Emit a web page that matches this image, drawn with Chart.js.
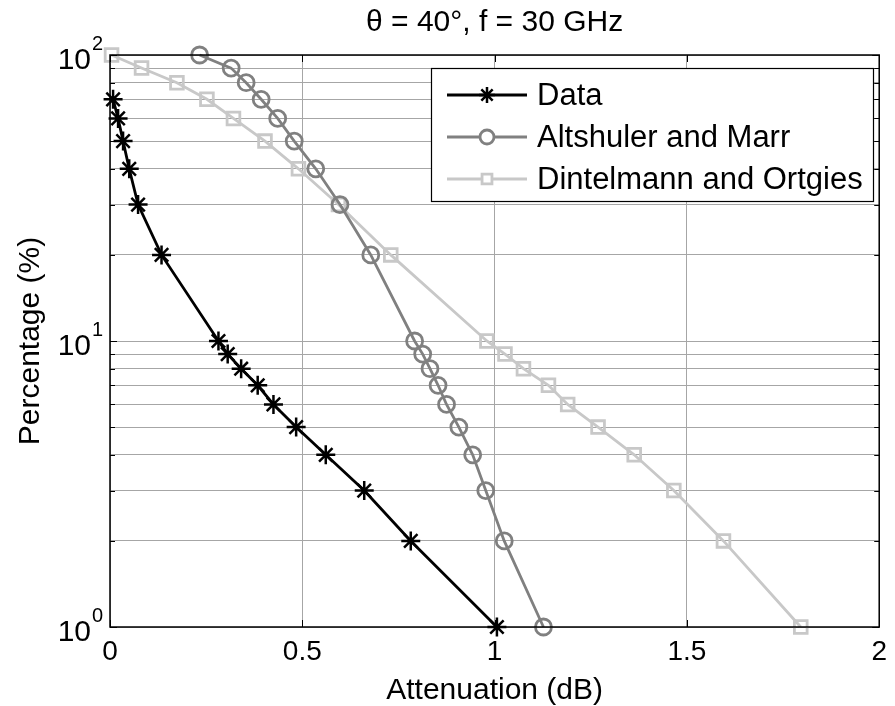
<!DOCTYPE html>
<html>
<head>
<meta charset="utf-8">
<script src="https://cdn.jsdelivr.net/npm/chart.js@4.4.1/dist/chart.umd.min.js"></script>
<style>
  html, body { margin: 0; padding: 0; background: #fff; }
  #wrap { width: 895px; height: 706px; }
</style>
</head>
<body>
<div id="wrap"><canvas id="chart" width="895" height="706"></canvas></div>
<script>
// ---------------- Data ----------------
const chartTitle = "θ = 40°, f = 30 GHz";
const xLabel = "Attenuation (dB)";
const yLabel = "Percentage (%)";

const seriesNames = ["Data", "Altshuler and Marr", "Dintelmann and Ortgies"];

const dataPct = [70, 60, 50, 40, 30, 20, 10, 9, 8, 7, 6, 5, 4, 3, 2, 1];
const dataAtt = [0.008, 0.021, 0.034, 0.05, 0.073, 0.134, 0.282, 0.306, 0.341, 0.384, 0.425, 0.484, 0.561, 0.661, 0.782, 1.006];

const altPct = [100, 90, 80, 70, 60, 50, 40, 30, 20, 10, 9, 8, 7, 6, 5, 4, 3, 2, 1];
const altAtt = [0.233, 0.315, 0.354, 0.393, 0.436, 0.479, 0.535, 0.598, 0.678, 0.792, 0.813, 0.832, 0.853, 0.875, 0.907, 0.943, 0.977, 1.025, 1.127];

const dinPct = [100, 90, 80, 70, 60, 50, 40, 30, 20, 10, 9, 8, 7, 6, 5, 4, 3, 2, 1];
const dinAtt = [0.004, 0.082, 0.174, 0.252, 0.321, 0.403, 0.49, 0.594, 0.73, 0.98, 1.027, 1.075, 1.14, 1.19, 1.269, 1.363, 1.466, 1.595, 1.796];

const xTicks = [0, 0.5, 1, 1.5, 2];
const yMajorTicks = [1, 10, 100];
const yGridValues = [1, 2, 3, 4, 5, 6, 7, 8, 9, 10, 20, 30, 40, 50, 60, 70, 80, 90, 100];

// ---------------- Helpers ----------------
const FONT = "Arial, 'Liberation Sans', Helvetica, sans-serif";
const gridColor = "#a6a6a6";

function toPoints(xs, ys) {
  return xs.map((x, i) => ({ x: x, y: ys[i] }));
}

// ---------------- Plugins ----------------
const framePlugin = {
  id: "frame",
  afterDatasetsDraw(chart) {
    const { ctx, chartArea: a, scales } = chart;
    ctx.save();
    ctx.strokeStyle = "#000";
    ctx.lineWidth = 1.5;
    ctx.strokeRect(a.left, a.top, a.right - a.left, a.bottom - a.top);
    // small inward tick marks like matlab
    ctx.lineWidth = 1;
    ctx.beginPath();
    yGridValues.forEach((v) => {
      const y = Math.round(scales.y.getPixelForValue(v)) + 0.5;
      const len = yMajorTicks.includes(v) ? 7 : 5;
      ctx.moveTo(a.left, y); ctx.lineTo(a.left + len, y);
      ctx.moveTo(a.right, y); ctx.lineTo(a.right - len, y);
    });
    xTicks.forEach((v) => {
      const x = Math.round(scales.x.getPixelForValue(v)) + 0.5;
      ctx.moveTo(x, a.bottom); ctx.lineTo(x, a.bottom - 7);
      ctx.moveTo(x, a.top); ctx.lineTo(x, a.top + 7);
    });
    ctx.stroke();
    ctx.restore();
  },
  afterDraw(chart) {
    const { ctx, chartArea: a, scales } = chart;
    ctx.save();
    ctx.fillStyle = "#000";
    // title
    ctx.font = "30px " + FONT;
    ctx.textAlign = "center";
    ctx.textBaseline = "middle";
    ctx.fillText(chartTitle, (a.left + a.right) / 2, 23);
    // y tick labels: 10 with superscript exponent
    yMajorTicks.forEach((v) => {
      const y = scales.y.getPixelForValue(v);
      const exp = String(Math.round(Math.log10(v)));
      ctx.font = "30px " + FONT;
      ctx.textAlign = "right";
      ctx.textBaseline = "middle";
      ctx.fillText("10", 91, y + 6);
      ctx.font = "20px " + FONT;
      ctx.textAlign = "left";
      ctx.fillText(exp, 92, y - 11);
    });
    ctx.restore();
  }
};

const legendPlugin = {
  id: "boxLegend",
  afterDatasetsDraw(chart) {
    const { ctx } = chart;
    const box = { x: 431.5, y: 68.5, w: 442, h: 133 };
    const rows = [95, 137, 179];
    ctx.save();
    ctx.fillStyle = "#fff";
    ctx.fillRect(box.x, box.y, box.w, box.h);
    ctx.strokeStyle = "#000";
    ctx.lineWidth = 1.2;
    ctx.strokeRect(box.x, box.y, box.w, box.h);
    chart.data.datasets.forEach((ds, i) => {
      const y = rows[i];
      ctx.strokeStyle = ds.borderColor;
      ctx.lineWidth = ds.borderWidth;
      ctx.beginPath();
      ctx.moveTo(447, y);
      ctx.lineTo(527, y);
      ctx.stroke();
      ctx.fillStyle = "#fff";
      ctx.strokeStyle = ds.pointBorderColor;
      ctx.lineWidth = ds.pointBorderWidth;
      Chart.helpers.drawPoint(ctx, {
        pointStyle: ds.pointStyle,
        radius: ds.pointStyle === "star" ? 8 : 7,
        borderWidth: ds.pointBorderWidth,
        rotation: 0
      }, 487, y);
      ctx.fillStyle = "#000";
      ctx.font = "31px " + FONT;
      ctx.textAlign = "left";
      ctx.textBaseline = "middle";
      ctx.fillText(ds.label, 537, y + 1);
    });
    ctx.restore();
  }
};

// ---------------- Chart ----------------
const ctx = document.getElementById("chart").getContext("2d");

const chart = new Chart(ctx, {
  type: "line",
  data: {
    datasets: [
      {
        label: seriesNames[0],
        data: toPoints(dataAtt, dataPct),
        borderColor: "#000000",
        borderWidth: 2.8,
        pointStyle: "star",
        pointRadius: 9.5,
        pointBorderWidth: 2.5,
        pointBorderColor: "#000000",
        pointBackgroundColor: "transparent",
        clip: false
      },
      {
        label: seriesNames[1],
        data: toPoints(altAtt, altPct),
        borderColor: "#808080",
        borderWidth: 2.8,
        pointStyle: "circle",
        pointRadius: 8,
        pointBorderWidth: 2.8,
        pointBorderColor: "#808080",
        pointBackgroundColor: "transparent",
        clip: false
      },
      {
        label: seriesNames[2],
        data: toPoints(dinAtt, dinPct),
        borderColor: "#c8c8c8",
        borderWidth: 2.8,
        pointStyle: "rect",
        pointRadius: 9,
        pointBorderWidth: 2.8,
        pointBorderColor: "#c8c8c8",
        pointBackgroundColor: "transparent",
        clip: false
      }
    ]
  },
  options: {
    responsive: false,
    animation: false,
    layout: { padding: { top: 55, right: 14, left: 0, bottom: 0 } },
    plugins: {
      legend: { display: false },
      title: { display: false },
      tooltip: { enabled: false }
    },
    elements: { line: { tension: 0 } },
    scales: {
      x: {
        type: "linear",
        min: 0,
        max: 2,
        afterBuildTicks(scale) {
          scale.ticks = xTicks.map((v) => ({ value: v }));
        },
        ticks: {
          color: "#000",
          font: { family: FONT, size: 28 },
          padding: 8,
          maxRotation: 0,
          callback: (v) => String(v)
        },
        grid: { color: gridColor, lineWidth: 1, drawTicks: false },
        border: { display: false },
        title: {
          display: true,
          text: xLabel,
          color: "#000",
          font: { family: FONT, size: 30, lineHeight: 1 },
          padding: { top: 0, bottom: 0 }
        },
        afterFit(scale) { scale.height = 79; }
      },
      y: {
        type: "logarithmic",
        min: 1,
        max: 100,
        afterBuildTicks(scale) {
          scale.ticks = yGridValues.map((v) => ({ value: v }));
        },
        ticks: { display: false },
        grid: { color: gridColor, lineWidth: 1, drawTicks: false },
        border: { display: false },
        title: {
          display: true,
          text: yLabel,
          color: "#000",
          font: { family: FONT, size: 30, lineHeight: 1.2 },
          padding: { top: 13, bottom: 0 }
        },
        afterFit(scale) { scale.width = 110; }
      }
    }
  },
  plugins: [framePlugin, legendPlugin]
});
</script>
</body>
</html>
